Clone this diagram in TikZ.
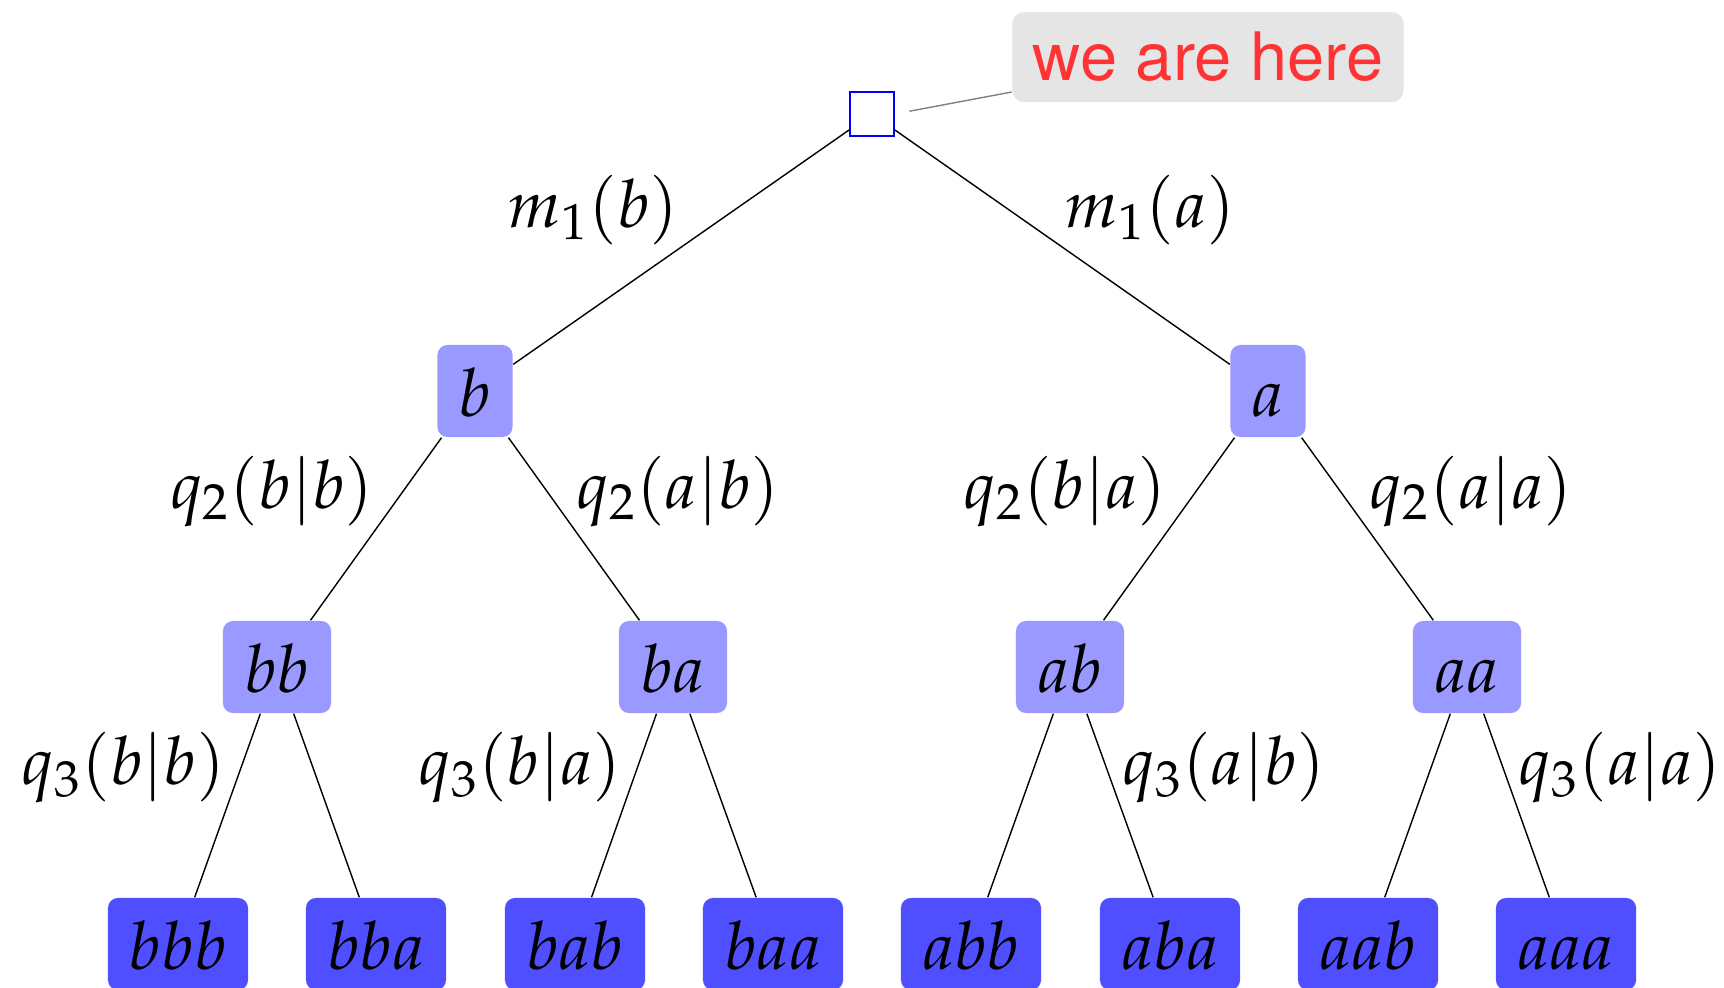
\documentclass[tikz,border=0pt]{standalone}
\usepackage{mathpazo}
\usepackage[no-math]{fontspec}
\newfontfamily\herosfont{TeX Gyre Heros}
\usepackage{tikz}
\usetikzlibrary{positioning}
\definecolor{midblue}{RGB}{153,153,255}
\definecolor{leafblue}{RGB}{79,79,255}
\definecolor{notegray}{RGB}{229,229,229}
\definecolor{notered}{RGB}{255,51,51}

\begin{document}
\begin{tikzpicture}[x=0.01cm, y=-0.01cm,
				font=\fontsize{19}{23}\selectfont,
				rootnode/.style={rectangle, draw=blue, fill=white, minimum size=4.4mm, inner sep=0pt},
				midnode/.style={rectangle, rounded corners=1mm, fill=midblue, minimum height=9.2mm, inner sep=0pt, text height=5mm, text depth=0mm},
				leafnode/.style={rectangle, rounded corners=1mm, fill=leafblue, minimum height=9.2mm, minimum width=14mm, inner sep=0pt, text height=5mm, text depth=0mm},
				notenode/.style={rectangle, rounded corners=1.2mm, fill=notegray, text=notered, minimum width=39.1mm, minimum height=9mm, font=\herosfont\fontsize{19}{23}\selectfont},
				lbl/.style={inner sep=0.5pt},
				]
		\useasboundingbox (0,0) rectangle (1724,988);

				%Nodes
				\node[rootnode]		(root)	at (872,114)	{};
				\node[notenode]		(here)	at (1208,57)	{we are here};

				\node[midnode, minimum width=7.5mm]	(b)	at (475,391)	{$b$};
				\node[midnode, minimum width=7.5mm]	(a)	at (1268,391)	{$a$};

				\node[midnode, minimum width=10.8mm]	(bb)	at (277,667)	{$bb$};
				\node[midnode, minimum width=10.8mm]	(ba)	at (673,667)	{$ba$};
				\node[midnode, minimum width=10.8mm]	(ab)	at (1070,667)	{$ab$};
				\node[midnode, minimum width=10.8mm]	(aa)	at (1467,667)	{$aa$};

				\node[leafnode]	(bbb)	at (178,944)	{$bbb$};
				\node[leafnode]	(bba)	at (376,944)	{$bba$};
				\node[leafnode]	(bab)	at (575,944)	{$bab$};
				\node[leafnode]	(baa)	at (773,944)	{$baa$};
				\node[leafnode]	(abb)	at (971,944)	{$abb$};
				\node[leafnode]	(aba)	at (1170,944)	{$aba$};
				\node[leafnode]	(aab)	at (1368,944)	{$aab$};
				\node[leafnode]	(aaa)	at (1566,944)	{$aaa$};

				%Lines
				\draw[gray, shorten >=1.5mm]	([yshift=-3.5mm]here.west) -- (root.east);

				\draw	(root) -- node[lbl, above left] {$m_1(b)$} (b);
				\draw	(root) -- node[lbl, above right] {$m_1(a)$} (a);

				\draw	(b) -- node[lbl, above left] {$q_2(b|b)$} (bb);
				\draw	(b) -- node[lbl, above right] {$q_2(a|b)$} (ba);
				\draw	(a) -- node[lbl, above left] {$q_2(b|a)$} (ab);
				\draw	(a) -- node[lbl, above right] {$q_2(a|a)$} (aa);

				\draw	(bb) -- node[lbl, above left] {$q_3(b|b)$} (bbb);
				\draw	(bb) -- (bba);
				\draw	(ba) -- node[lbl, above left] {$q_3(b|a)$} (bab);
				\draw	(ba) -- (baa);
				\draw	(ab) -- (abb);
				\draw	(ab) -- node[lbl, above right] {$q_3(a|b)$} (aba);
				\draw	(aa) -- (aab);
				\draw	(aa) -- node[lbl, above right] {$q_3(a|a)$} (aaa);
			\end{tikzpicture}
\end{document}
